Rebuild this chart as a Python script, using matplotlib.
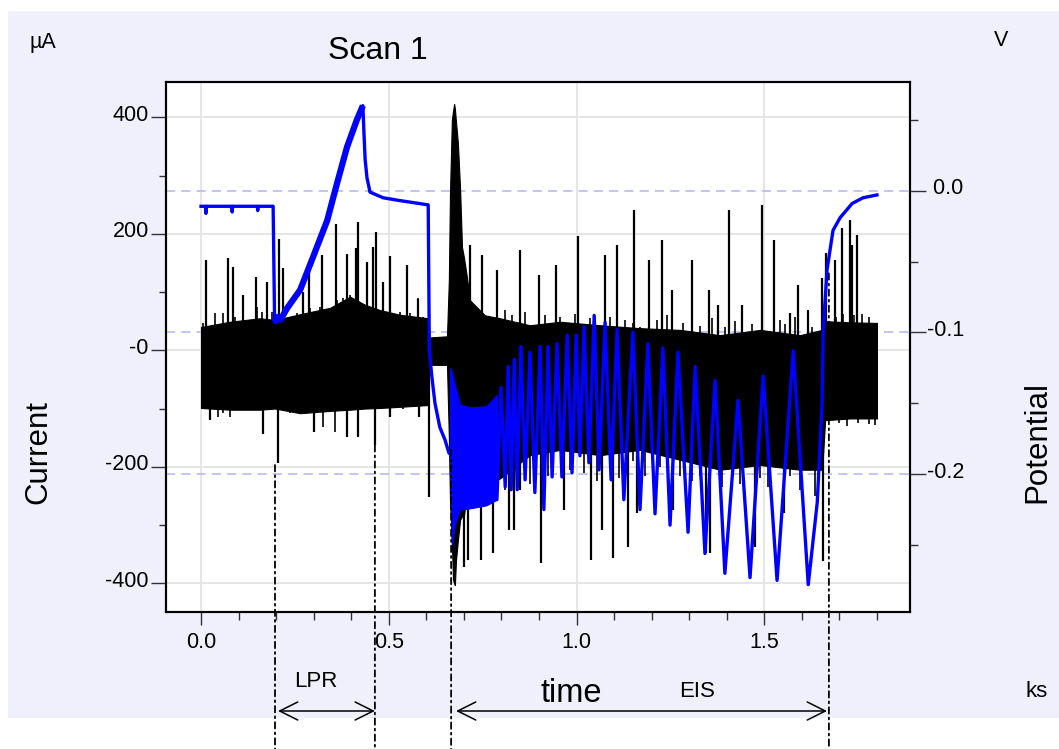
import matplotlib.pyplot as plt
import matplotlib.transforms as mtransforms
from matplotlib.patches import Rectangle, ConnectionPatch, FancyArrowPatch
from matplotlib.ticker import FixedLocator, FixedFormatter, MultipleLocator

plt.rcParams['font.family'] = ['Liberation Sans', 'DejaVu Sans']

# --- current (uA): envelope of the dense trace -------------------------------
cur_t = [0.0, 0.077, 0.157, 0.197, 0.264, 0.344, 0.397, 0.437, 0.477, 0.530,
         0.605, 0.608, 0.655, 0.660, 0.663, 0.668, 0.671, 0.674, 0.676, 0.679,
         0.684, 0.690, 0.695, 0.700, 0.708, 0.716, 0.756, 0.796, 0.876, 0.956,
         1.063, 1.169, 1.276, 1.382, 1.489, 1.595, 1.654, 1.662, 1.728, 1.800]
cur_hi = [40, 49, 55, 52, 62, 73, 92, 78, 69, 61,
          55, 22, 24, 121, 270, 396, 410, 423, 415, 392,
          356, 275, 177, 160, 126, 86, 60, 55, 43, 49,
          43, 38, 35, 26, 35, 26, 35, 50, 48, 47]
cur_lo = [-99, -102, -102, -100, -108, -104, -102, -100, -99, -97,
          -94, -25, -25, -150, -257, -330, -394, -400, -403, -360,
          -326, -291, -285, -283, -250, -240, -230, -220, -180, -171,
          -180, -171, -188, -205, -197, -205, -205, -120, -117, -117]

# short noise excursions past the band edges (ks, uA)
hair_t = [0.006, 0.037, 0.059, 0.091, 0.130, 0.148, 0.162, 0.188, 0.237, 0.255,
          0.272, 0.290, 0.317, 0.335, 0.361, 0.379, 0.397, 0.415, 0.432, 0.455,
          0.477, 0.503, 0.530, 0.557, 0.579, 0.592,
          0.002, 0.046, 0.059, 0.077, 0.113, 0.130, 0.184, 0.237, 0.264, 0.326,
          0.357, 0.539,
          0.810, 0.828, 0.863, 0.916, 0.956, 0.996, 1.036, 1.089, 1.129, 1.150,
          1.169, 1.214, 1.241, 1.284, 1.329, 1.361, 1.395, 1.422, 1.467, 1.542,
          1.555, 1.582, 1.627,
          0.810, 0.845, 0.876, 0.924, 0.983, 1.020, 1.055, 1.113, 1.150, 1.182,
          1.222, 1.276, 1.308, 1.329, 1.387, 1.435, 1.489, 1.510, 1.569, 1.595,
          1.635,
          1.690, 1.710, 1.740, 1.760, 1.780, 1.700, 1.720, 1.750, 1.780, 1.795]
hair_v = [46, 64, 64, 58, 52, 75, 66, 66, 58, 64,
          61, 72, 75, 69, 86, 89, 95, 86, 75, 69,
          64, 64, 66, 64, 89, 58,
          -100, -114, -108, -114, -100, -102, -97, -108, -105, -131,
          -140, -100,
          70, 60, 65, 60, 58, 62, 55, 58, 52, 47,
          40, 52, 60, 46, 42, 55, 40, 50, 45, 52,
          45, 58, 40,
          -240, -225, -230, -215, -205, -210, -225, -220, -190, -215,
          -200, -215, -225, -215, -235, -230, -220, -235, -215, -240,
          -250,
          58, 62, 60, 62, 58, -125, -130, -125, -127, -128]

# isolated current spikes (ks, uA)
spike_up_t = [0.013, 0.072, 0.085, 0.112, 0.146, 0.175, 0.208, 0.219, 0.272,
              0.288, 0.322, 0.360, 0.388, 0.412, 0.418, 0.441, 0.458, 0.466,
              0.484, 0.503, 0.549, 0.578,
              0.716, 0.748, 0.788, 0.850, 0.900, 0.945, 1.004, 1.076, 1.108,
              1.153, 1.193, 1.228, 1.254, 1.308, 1.353, 1.377, 1.406, 1.441,
              1.494, 1.526, 1.569, 1.590, 1.617, 1.654, 1.665, 1.688, 1.707,
              1.728, 1.734, 1.747]
spike_up_v = [155, 158, 143, 95, 126, 117, 191, 141, 100,
              150, 163, 217, 165, 175, 220, 152, 178, 203,
              117, 162, 146, 88,
              180, 163, 138, 172, 129, 146, 197, 163, 180,
              241, 155, 189, 103, 155, 103, 78, 241, 78,
              249, 189, 64, 112, 69, 124, 167, 155, 210,
              224, 181, 198]
spike_dn_t = [0.024, 0.165, 0.205, 0.300, 0.390, 0.418, 0.463, 0.503, 0.580,
              0.607, 0.700, 0.711, 0.746, 0.778, 0.821, 0.834, 0.850, 0.906,
              0.967, 1.039, 1.068, 1.097, 1.137, 1.161, 1.257, 1.345, 1.356,
              1.475, 1.552, 1.657]
spike_dn_v = [-120, -143, -193, -140, -149, -149, -163, -114, -114,
              -252, -372, -360, -360, -348, -308, -308, -240, -366,
              -274, -360, -308, -356, -337, -280, -274, -348, -348,
              -337, -280, -361]

# --- potential (V) -----------------------------------------------------------
pot_t = [0.000, 0.012, 0.013, 0.014, 0.082, 0.083, 0.084, 0.150, 0.151, 0.152,
         0.192, 0.196, 0.205, 0.212, 0.229, 0.264, 0.298, 0.336, 0.362, 0.389,
         0.415, 0.431, 0.434, 0.437, 0.442, 0.450, 0.485, 0.530, 0.605, 0.608,
         0.615, 0.623, 0.636, 0.650, 0.660, 0.788,
         0.799, 0.810, 0.818, 0.826, 0.834, 0.842, 0.852, 0.863, 0.876, 0.889,
         0.903, 0.913, 0.924, 0.935, 0.948, 0.961, 0.975, 0.988, 0.999, 1.009,
         1.020, 1.033, 1.047, 1.060, 1.076, 1.092, 1.108, 1.126, 1.150, 1.169,
         1.190, 1.209, 1.230, 1.249, 1.270, 1.297, 1.316, 1.342, 1.369, 1.395,
         1.430, 1.462, 1.497, 1.534, 1.577, 1.617, 1.641, 1.654, 1.657, 1.667,
         1.683, 1.702, 1.734, 1.763, 1.800]
pot_v = [-0.011, -0.011, -0.016, -0.011, -0.011, -0.015, -0.011, -0.011, -0.014, -0.011,
         -0.011, -0.093, -0.089, -0.091, -0.083, -0.070, -0.047, -0.021, 0.005, 0.031,
         0.050, 0.060, 0.040, 0.022, 0.009, -0.001, -0.005, -0.007, -0.010, -0.113,
         -0.132, -0.150, -0.167, -0.176, -0.185, -0.218,
         -0.139, -0.209, -0.124, -0.211, -0.119, -0.211, -0.110, -0.204, -0.114, -0.213,
         -0.110, -0.225, -0.110, -0.202, -0.108, -0.202, -0.102, -0.199, -0.102, -0.187,
         -0.096, -0.192, -0.088, -0.197, -0.093, -0.204, -0.098, -0.218, -0.100, -0.225,
         -0.108, -0.228, -0.111, -0.236, -0.114, -0.241, -0.124, -0.256, -0.134, -0.270,
         -0.148, -0.273, -0.131, -0.275, -0.113, -0.278, -0.220, -0.150, -0.098, -0.056,
         -0.028, -0.019, -0.009, -0.005, -0.003]

# fast EIS start: band of the potential trace
eis_fast_t = [0.663, 0.668, 0.676, 0.690, 0.720, 0.760, 0.788]
eis_fast_top = [-0.125, -0.128, -0.137, -0.151, -0.153, -0.152, -0.144]
eis_fast_bot = [-0.200, -0.250, -0.235, -0.225, -0.224, -0.222, -0.218]

# technique markers (ks) and where their guide lines start (uA)
marker_t = [0.197, 0.463, 0.666, 1.672]
marker_start = [-197, -163, -170, 132]

cur_ticks = [-400, -200, 0, 200, 400]
cur_labels = ['-400', '-200', '-0', '200', '400']
pot_ticks = [-0.2, -0.1, 0.0]
pot_labels = ['-0.2', '-0.1', ' 0.0']
time_ticks = [0.0, 0.5, 1.0, 1.5]
time_labels = ['0.0', '0.5', '1.0', '1.5']

W, H = 1059, 749
fig = plt.figure(figsize=(W / 100, H / 100), dpi=100)
fig.patch.set_facecolor('white')
fig.add_artist(Rectangle((8 / W, 1 - 718 / H), (W - 8) / W, (718 - 11) / H,
                         transform=fig.transFigure, facecolor='#f0f0fc',
                         edgecolor='none', zorder=-10))

ax = fig.add_axes([165.5 / W, 1 - 612 / H, (910 - 165.5) / W, (612 - 82) / H])
ax2 = ax.twinx()
ax.set_xlim(-0.0946, 1.888)
ax.set_ylim(-449.3, 460.6)
ax2.set_ylim(-0.2973, 0.0767)

# grid on current / time ticks
for v in cur_ticks:
    ax.axhline(v, color='#e4e4e4', lw=1.3, zorder=0.5)
for v in time_ticks:
    ax.axvline(v, color='#e4e4e4', lw=1.3, zorder=0.5)
# dashed reference lines at potential ticks
pot_blend = mtransforms.blended_transform_factory(ax.transAxes, ax2.transData)
for v in pot_ticks:
    ax.plot([0, 1], [v, v], transform=pot_blend, color='#b4b4f0', lw=1.1,
            ls=(0, (6, 4)), zorder=0.8)

# current trace
ax.fill_between(cur_t, cur_lo, cur_hi, color='black', lw=0.8, zorder=2)
ax.vlines(hair_t, 0, hair_v, color='black', lw=1.2, zorder=2)
ax.vlines(spike_up_t, 0, spike_up_v, color='black', lw=1.6, zorder=2)
ax.vlines(spike_dn_t, 0, spike_dn_v, color='black', lw=1.6, zorder=2)

# potential trace; the LPR ramp is noisier and reads as a wider stroke
ax2.fill_between(eis_fast_t, eis_fast_bot, eis_fast_top, color='#0000ff',
                 lw=0.8, zorder=3)
ax2.plot(pot_t, pot_v, color='#0000ff', lw=2.4, zorder=3)
ax2.plot(pot_t[11:22], pot_v[11:22], color='#0000ff', lw=4.5,
         solid_capstyle='butt', zorder=3)

# axes styling
for a in (ax, ax2):
    for s in a.spines.values():
        s.set_linewidth(1.5)
        s.set_color('black')
    a.set_facecolor('none')
ax.set_facecolor('white')
ax.set_zorder(1)
ax2.set_zorder(2)

ax.xaxis.set_major_locator(FixedLocator(time_ticks))
ax.xaxis.set_major_formatter(FixedFormatter(time_labels))
ax.xaxis.set_minor_locator(MultipleLocator(0.1))
ax.yaxis.set_major_locator(FixedLocator(cur_ticks))
ax.yaxis.set_major_formatter(FixedFormatter(cur_labels))
ax.yaxis.set_minor_locator(MultipleLocator(100))
ax2.yaxis.set_major_locator(FixedLocator(pot_ticks))
ax2.yaxis.set_major_formatter(FixedFormatter(pot_labels))
ax2.yaxis.set_minor_locator(MultipleLocator(0.05))

ax.tick_params(axis='x', which='major', direction='out', length=9.5, width=1,
               pad=5, labelsize=15.5, color='#333333')
ax.tick_params(axis='x', which='minor', direction='out', length=5.5, width=1,
               color='#333333')
ax.tick_params(axis='y', which='major', direction='out', length=10.5, width=1,
               pad=1.5, labelsize=15.5, color='#333333')
ax.tick_params(axis='y', which='minor', direction='out', length=5, width=1,
               color='#333333')
ax2.tick_params(axis='y', which='major', direction='out', length=11.5, width=1,
                pad=1, labelsize=15.5, color='#333333')
ax2.tick_params(axis='y', which='minor', direction='out', length=5.8, width=1,
                color='#333333')

# tick labels sit slightly above their ticks
lift = mtransforms.ScaledTranslation(0, 4.5 / 100, fig.dpi_scale_trans)
for lbl in ax.get_yticklabels() + ax2.get_yticklabels():
    lbl.set_transform(lbl.get_transform() + lift)

# technique guide lines running down to the page edge
down = mtransforms.blended_transform_factory(ax.transData, fig.transFigure)
for t, y0 in zip(marker_t, marker_start):
    con = ConnectionPatch(xyA=(t, y0), coordsA=ax.transData, xyB=(t, 0),
                          coordsB=down, color='black', lw=1.3,
                          ls=(0, (3.5, 2.2, 1, 2.2)), zorder=5)
    fig.add_artist(con)

arrow_y = 1 - 711 / H
for t0, t1 in [(0.205, 0.463), (0.679, 1.667)]:
    fig.add_artist(FancyArrowPatch((t0, arrow_y), (t1, arrow_y), transform=down,
                                   arrowstyle='<->,head_length=1.3,head_width=0.65',
                                   mutation_scale=10, color='black', lw=1.1,
                                   shrinkA=0, shrinkB=0))

fig.text(316 / W, 1 - 687 / H, 'LPR', fontsize=16, ha='center', va='baseline')
fig.text(571 / W, 1 - 702 / H, 'time', fontsize=23.5, ha='center', va='baseline')
fig.text(697 / W, 1 - 697 / H, 'EIS', fontsize=16, ha='center', va='baseline')
fig.text(1037 / W, 1 - 697 / H, 'ks', fontsize=16, ha='center', va='baseline')
fig.text(43 / W, 1 - 48 / H, 'µA', fontsize=15.5, ha='center', va='baseline')
fig.text(1001 / W, 1 - 46 / H, 'V', fontsize=15.5, ha='center', va='baseline')
fig.text(377.5 / W, 1 - 59 / H, 'Scan 1', fontsize=23, ha='center', va='baseline')
fig.text(38 / W, 1 - 452 / H, 'Current', fontsize=22.5, rotation=90,
         ha='center', va='center')
fig.text(1037 / W, 1 - 442 / H, 'Potential', fontsize=22.5, rotation=90,
         ha='center', va='center')

fig.savefig('out.png', dpi=100)
